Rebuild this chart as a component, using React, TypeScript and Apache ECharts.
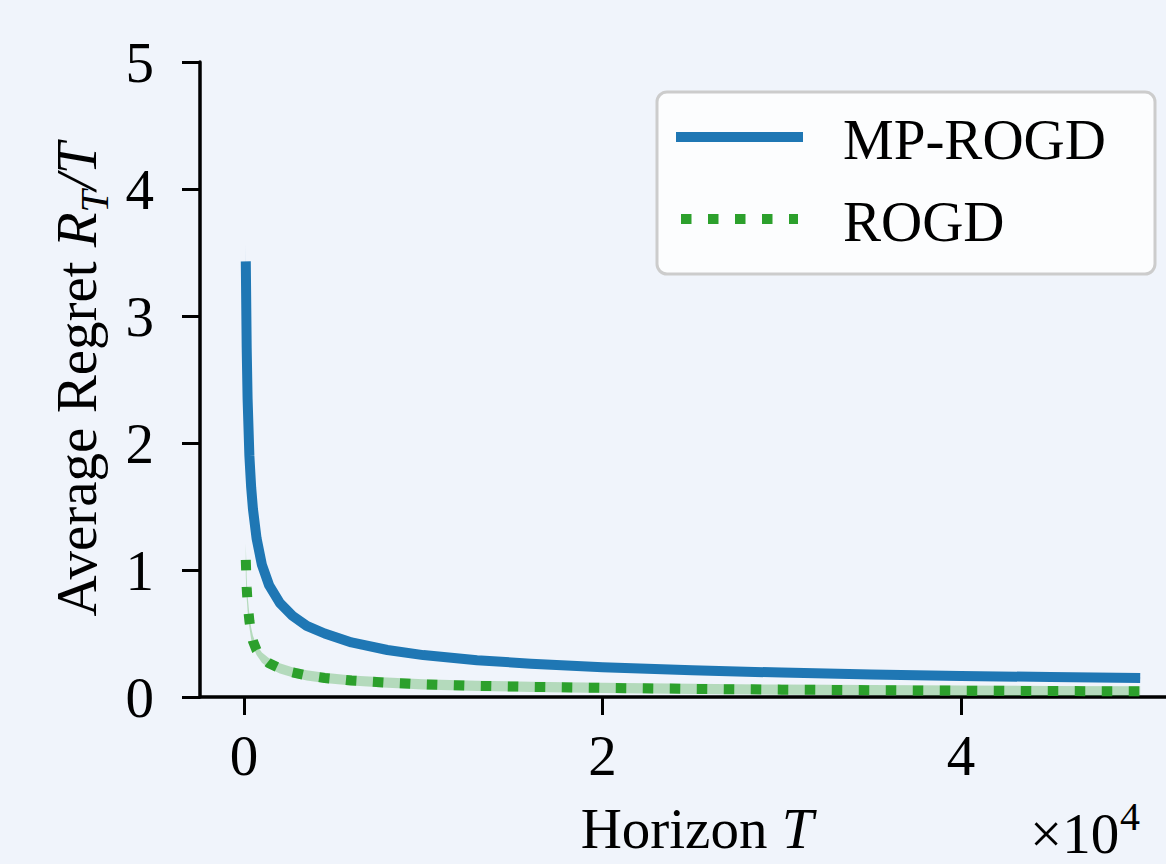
import React, { useEffect, useRef } from "react";
import * as echarts from "echarts";

// Horizon T values (raw, axis shows ×10^4)
const horizon = [100, 150, 200, 300, 400, 500, 700, 1000, 1400, 2000, 2700, 3500, 4500, 6000, 8000, 10000, 13000, 16000, 20000, 25000, 30000, 35000, 40000, 45000, 50000];
// MP-ROGD average regret
const mpRogd = [3.43, 2.75, 2.35, 1.9, 1.65, 1.48, 1.25, 1.04, 0.88, 0.74, 0.64, 0.56, 0.5, 0.43, 0.37, 0.33, 0.29, 0.262, 0.235, 0.21, 0.192, 0.178, 0.166, 0.157, 0.149];
const mpRogdStd = [0.14, 0.05, 0.03, 0.02, 0.015, 0.012, 0.01, 0.01, 0.01, 0.01, 0.008, 0.008, 0.008, 0.008, 0.008, 0.008, 0.008, 0.008, 0.008, 0.008, 0.008, 0.008, 0.008, 0.008, 0.008];
// ROGD average regret
const rogd = [1.08, 0.86, 0.74, 0.6, 0.5, 0.44, 0.37, 0.31, 0.265, 0.225, 0.195, 0.17, 0.15, 0.13, 0.113, 0.1, 0.088, 0.08, 0.072, 0.064, 0.058, 0.054, 0.05, 0.047, 0.045];
const rogdStd = [0.13, 0.08, 0.06, 0.05, 0.045, 0.042, 0.04, 0.04, 0.04, 0.04, 0.04, 0.04, 0.04, 0.04, 0.04, 0.04, 0.04, 0.04, 0.04, 0.04, 0.04, 0.04, 0.04, 0.04, 0.04];

const xTicks = [0, 20000, 40000];
const yTicks = [0, 1, 2, 3, 4, 5];
const seriesNames = ["MP-ROGD", "ROGD"];

const BLUE = "#1f77b4";
const GREEN = "#2ca02c";
const FONT = "'Liberation Serif', 'DejaVu Serif', serif";
const FS = 57;
const LW = 10;
const DOT = [10.5, 16.5];

function bandSeries(mean: number[], std: number[], fill: string) {
  return {
    type: "custom",
    coordinateSystem: "cartesian2d",
    silent: true,
    z: 1,
    data: horizon.map((t, i) => [t, mean[i] - std[i], mean[i] + std[i]]),
    encode: { x: 0, y: [1, 2] },
    renderItem: (params: any, api: any) => {
      if (params.dataIndex !== 0) return null;
      const upper = horizon.map((t, i) => api.coord([t, mean[i] + std[i]]));
      const lower = horizon.map((t, i) => api.coord([t, mean[i] - std[i]])).reverse();
      return {
        type: "polygon",
        shape: { points: upper.concat(lower) },
        style: { fill },
      };
    },
  };
}

export default function App() {
  const ref = useRef<HTMLDivElement>(null);
  useEffect(() => {
    if (!ref.current) return;
    const chart = echarts.init(ref.current, undefined, { renderer: "svg" });
    const legendLeft = 657;
    const legendTop = 92;
    chart.setOption({
      animation: false,
      backgroundColor: "#f0f4fb",
      textStyle: { fontFamily: FONT },
      grid: { left: 200, top: 62, right: 0, bottom: 167, containLabel: false, outerBoundsMode: "none" },
      xAxis: {
        type: "value",
        min: -2455,
        max: 51440,
        name: "Horizon {i|T}",
        nameLocation: "middle",
        nameGap: 103,
        nameTextStyle: {
          fontFamily: FONT,
          fontSize: FS,
          color: "#000",
          padding: [0, 0, 0, 28],
          rich: { i: { fontFamily: FONT, fontSize: FS, fontStyle: "italic", color: "#000" } },
        },
        axisLine: { show: true, onZero: false, lineStyle: { color: "#000", width: 3.5 } },
        axisTick: { show: true, length: 18, lineStyle: { color: "#000", width: 3 }, customValues: xTicks },
        axisLabel: {
          customValues: xTicks,
          formatter: (v: number) => String(v / 10000),
          fontFamily: FONT,
          fontSize: FS,
          color: "#000",
          margin: 30,
        },
        splitLine: { show: false },
      },
      yAxis: {
        type: "value",
        min: 0,
        max: 5,
        interval: 1,
        name: "{n|Average Regret }{i|R}{s|T}{i|/T}",
        nameLocation: "middle",
        nameGap: 72,
        nameTextStyle: {
          color: "#000",
          rich: {
            n: { fontFamily: FONT, fontSize: FS, color: "#000", lineHeight: 76, verticalAlign: "middle" },
            i: { fontFamily: FONT, fontSize: FS, fontStyle: "italic", color: "#000", lineHeight: 76, verticalAlign: "middle" },
            s: { fontFamily: FONT, fontSize: 40, fontStyle: "italic", color: "#000", lineHeight: 76, verticalAlign: "bottom" },
          },
        },
        axisLine: { show: true, onZero: false, lineStyle: { color: "#000", width: 3.5 } },
        axisTick: { show: true, length: 18, lineStyle: { color: "#000", width: 3 } },
        axisLabel: {
          formatter: (v: number) => (yTicks.includes(v) ? String(v) : ""),
          fontFamily: FONT,
          fontSize: FS,
          color: "#000",
          margin: 46,
        },
        splitLine: { show: false },
      },
      series: [
        bandSeries(mpRogd, mpRogdStd, "rgba(31,119,180,0.3)"),
        bandSeries(rogd, rogdStd, "rgba(44,160,44,0.3)"),
        {
          name: seriesNames[0],
          type: "line",
          data: horizon.map((t, i) => [t, mpRogd[i]]),
          showSymbol: false,
          symbol: "none",
          z: 3,
          lineStyle: { color: BLUE, width: LW, cap: "butt", join: "round" },
        },
        {
          name: seriesNames[1],
          type: "line",
          data: horizon.map((t, i) => [t, rogd[i]]),
          showSymbol: false,
          symbol: "none",
          z: 3,
          lineStyle: { color: GREEN, width: LW, type: DOT, cap: "butt" },
        },
      ],
      graphic: [
        {
          type: "rect",
          z: 10,
          shape: { x: legendLeft, y: legendTop, width: 498, height: 182, r: 10 },
          style: { fill: "rgba(255,255,255,0.8)", stroke: "#cccccc", lineWidth: 3 },
        },
        {
          type: "line",
          z: 11,
          shape: { x1: 676, y1: 137, x2: 803, y2: 137 },
          style: { stroke: BLUE, lineWidth: LW, lineCap: "butt" },
        },
        {
          type: "line",
          z: 11,
          shape: { x1: 681, y1: 219, x2: 798, y2: 219 },
          style: { stroke: GREEN, lineWidth: LW, lineDash: DOT, lineCap: "butt" },
        },
        {
          type: "text",
          z: 11,
          x: 843,
          y: 139,
          style: { text: seriesNames[0], font: `${FS}px ${FONT}`, fill: "#000", verticalAlign: "middle" },
        },
        {
          type: "text",
          z: 11,
          x: 843,
          y: 221,
          style: { text: seriesNames[1], font: `${FS}px ${FONT}`, fill: "#000", verticalAlign: "middle" },
        },
        {
          type: "text",
          z: 11,
          x: 1030,
          y: 862,
          style: { text: "×10", font: `${FS}px ${FONT}`, fill: "#000", verticalAlign: "bottom" },
        },
        {
          type: "text",
          z: 11,
          x: 1120,
          y: 816,
          style: { text: "4", font: `40px ${FONT}`, fill: "#000", verticalAlign: "middle" },
        },
      ],
    });
    return () => chart.dispose();
  }, []);
  return (
    <div
      ref={ref}
      style={{ position: "absolute", left: 0, top: 0, width: 1166, height: 864, background: "#f0f4fb" }}
    />
  );
}
